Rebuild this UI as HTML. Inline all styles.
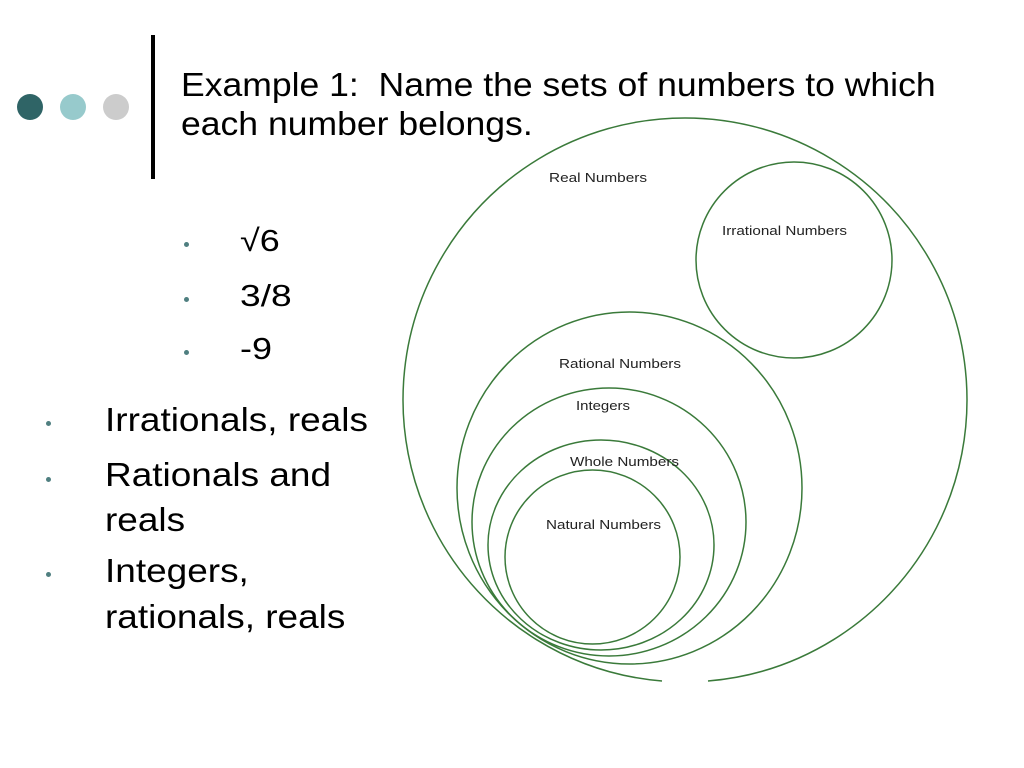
<!DOCTYPE html>
<html><head><meta charset="utf-8"><style>
body{margin:0;width:1024px;height:768px;background:#fff;position:relative;overflow:hidden;font-family:"Liberation Sans",Arial,sans-serif;}
.d{position:absolute;width:26px;height:26px;border-radius:50%;top:94px}
.t{position:absolute;white-space:nowrap;color:#000;transform-origin:0 0}
.b{position:absolute;width:5px;height:5px;border-radius:50%;background:#4f7f80}
</style></head><body>
<div class="d" style="left:17px;background:#2f6466"></div>
<div class="d" style="left:60px;background:#97cacc"></div>
<div class="d" style="left:103px;background:#cccccc"></div>
<div style="position:absolute;left:151px;top:35px;width:4px;height:144px;background:#000"></div>
<div class="t" style="left:181px;top:65px;font-size:33px;line-height:39px;transform:scaleX(1.077)">Example 1:&nbsp; Name the sets of numbers to which<br>each number belongs.</div>
<div class="b" style="left:184px;top:242px"></div><div class="t" style="left:240px;top:223px;font-size:31px;transform:scaleX(1.16)">√6</div>
<div class="b" style="left:184px;top:297px"></div><div class="t" style="left:240px;top:278px;font-size:31px;transform:scaleX(1.2)">3/8</div>
<div class="b" style="left:184px;top:350px"></div><div class="t" style="left:240px;top:331px;font-size:31px;transform:scaleX(1.16)">-9</div>
<div class="b" style="left:46px;top:421px"></div><div class="t" style="left:105px;top:401px;font-size:33px;transform:scaleX(1.12)">Irrationals, reals</div>
<div class="b" style="left:46px;top:477px"></div><div class="t" style="left:105px;top:452px;font-size:33px;line-height:45px;transform:scaleX(1.12)">Rationals and<br>reals</div>
<div class="b" style="left:46px;top:572px"></div><div class="t" style="left:105px;top:548px;font-size:33px;line-height:46px;transform:scaleX(1.12)">Integers,<br>rationals, reals</div>
<svg width="1024" height="768" style="position:absolute;left:0;top:0" fill="none" stroke="#3a7a3a" stroke-width="1.5">
<path d="M662,681 A282,282 0 1 1 708,681"/>
<circle cx="794" cy="260" r="98"/>
<ellipse cx="629.5" cy="488" rx="172.5" ry="176"/>
<ellipse cx="609" cy="522" rx="137" ry="134"/>
<ellipse cx="601" cy="545" rx="113" ry="105"/>
<ellipse cx="592.5" cy="557" rx="87.5" ry="87"/>
<g fill="#222" stroke="none" font-family="Liberation Sans,Arial,sans-serif" font-size="13">
<text x="549" y="182" textLength="98" lengthAdjust="spacingAndGlyphs">Real Numbers</text>
<text x="722" y="235" textLength="125" lengthAdjust="spacingAndGlyphs">Irrational Numbers</text>
<text x="559" y="368" textLength="122" lengthAdjust="spacingAndGlyphs">Rational Numbers</text>
<text x="576" y="410" textLength="54" lengthAdjust="spacingAndGlyphs">Integers</text>
<text x="570" y="466" textLength="109" lengthAdjust="spacingAndGlyphs">Whole Numbers</text>
<text x="546" y="529" textLength="115" lengthAdjust="spacingAndGlyphs">Natural Numbers</text>
</g></svg>
</body></html>
